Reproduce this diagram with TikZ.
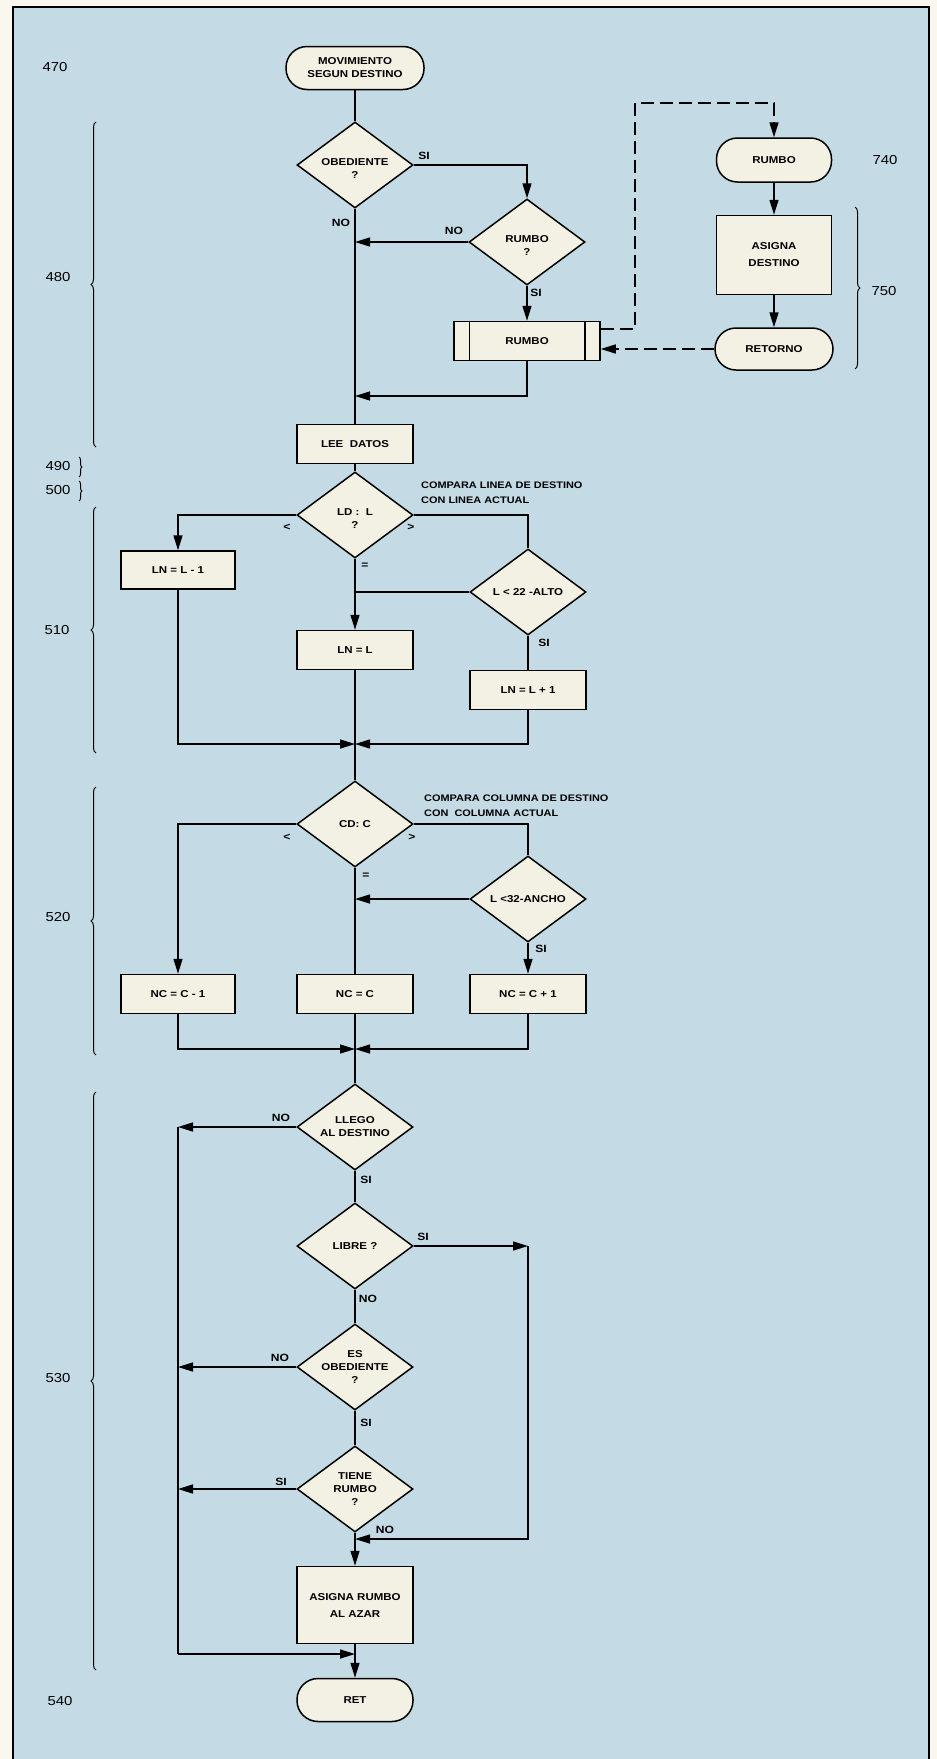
\documentclass[tikz,border=0pt]{standalone}
\usepackage{fontspec}
\setmainfont{Liberation Sans}[FakeStretch=1.15]
\usetikzlibrary{arrows.meta,shapes.geometric,decorations.pathreplacing}

\definecolor{pagebg}{RGB}{250,248,238}
\definecolor{skyblue}{RGB}{196,219,229}
\definecolor{boxfill}{RGB}{243,240,228}

\begin{document}
\begin{tikzpicture}[
  x=1pt, y=-1pt,
  font=\fontsize{10}{13}\selectfont\bfseries,
  box/.style={draw, fill=boxfill, line width=1.5pt, minimum width=116pt,
              minimum height=39pt, inner sep=0pt, align=center},
  term/.style={box, rounded corners=21pt, minimum height=43pt},
  dec/.style={box, diamond, aspect=1.35, minimum width=116pt, minimum height=86pt},
  lbl/.style={inner sep=0pt, font=\fontsize{10.5}{12}\selectfont\bfseries},
  num/.style={inner sep=0pt, font=\fontsize{13}{15}\selectfont},
  ln/.style={line width=1.5pt},
  ar/.style={-{Triangle[length=15pt,width=9pt]}, line width=1.5pt},
  dsh/.style={ar, dash pattern=on 13pt off 6pt},
  brc/.style={decorate, decoration={brace, amplitude=5pt}, line width=1pt},
]
\useasboundingbox (0,0) rectangle (937,1759);
\fill[pagebg] (0,0) rectangle (937,1759);
\fill[skyblue] (13,7) rectangle (929,1759);
\draw[line width=2.5pt] (13,1762) -- (13,7) -- (929,7) -- (929,1762);

% main column
\node[term, minimum width=138pt] (start) at (355,68) {MOVIMIENTO\\SEGUN DESTINO};
\node[dec] (obed) at (355,165) {\mbox{}\\OBEDIENTE\\?};
\node[dec] (rumq) at (527,242) {\mbox{}\\RUMBO\\?};
\node[box, minimum width=146pt] (rumbox) at (527,341) {RUMBO};
\node[box] (lee) at (355,444) {LEE~ DATOS};
\node[dec] (ldl) at (355,515) {\mbox{}\\LD : ~L\\?};
\node[box, minimum width=114pt, minimum height=38pt] (lnm1) at (178,570) {LN = L - 1};
\node[dec] (l22) at (528,592) {L < 22 -ALTO};
\node[box] (lneq) at (355,650) {LN = L};
\node[box] (lnp1) at (528,690) {LN = L + 1};
\node[dec] (cdc) at (355,824) {CD: C};
\node[dec] (l32) at (528,899) {L <32-ANCHO};
\node[box, minimum width=114pt] (ncm1) at (178,994) {NC = C - 1};
\node[box] (nceq) at (355,994) {NC = C};
\node[box] (ncp1) at (528,994) {NC = C + 1};
\node[dec] (llego) at (355,1127) {LLEGO\\AL DESTINO};
\node[dec] (libre) at (355,1246) {LIBRE ?};
\node[dec] (esob) at (355,1367) {ES\\OBEDIENTE\\?};
\node[dec] (tiene) at (355,1489) {TIENE\\RUMBO\\?};
\node[box, minimum height=77pt] (asigr) at (355,1605) {ASIGNA RUMBO\\[4pt]AL AZAR};
\node[term] (ret) at (355,1700) {RET};

% subroutine
\node[term, minimum width=115pt, minimum height=44pt] (rumt) at (774,160) {RUMBO};
\node[box, minimum width=115pt, minimum height=79pt] (asigd) at (774,255) {ASIGNA\\[4pt]DESTINO};
\node[term, minimum width=118pt, minimum height=42pt] (ret2) at (774,349) {RETORNO};

\draw[ln] ([xshift=16pt]rumbox.north west) -- ([xshift=16pt]rumbox.south west);
\draw[ln] ([xshift=-16pt]rumbox.north east) -- ([xshift=-16pt]rumbox.south east);

\coordinate (dA) at (635,103);
\coordinate (jB) at (355,396);
\coordinate (m1) at (355,744);
\coordinate (m2) at (355,1049);
\coordinate (lt) at (178,1127);
\coordinate (lb) at (178,1654);
\coordinate (cLib) at (528,1246);
\coordinate (jR) at (355,1539);
\coordinate (jL) at (355,1654);

% connectors
\draw[ln] (start) -- (obed);
\draw[ln] (obed) -- (lee);
\draw[ar] (obed.east) -| (rumq.north);
\draw[ar] (rumq.west) -- (rumq.west -| obed.south);
\draw[ar] (rumq) -- (rumbox);
\draw[ar] (rumbox.south) |- (jB);
\draw[ln] (lee) -- (ldl);
\draw[ar] (ldl.west) -| (lnm1.north);
\draw[ln] (ldl.east) -| (l22.north);
\draw[ar] (ldl) -- (lneq);
\draw[ln] (l22.west) -- (l22.west -| ldl.south);
\draw[ln] (l22) -- (lnp1);
\draw[ar] (lnm1.south) |- (m1);
\draw[ar] (lnp1.south) |- (m1);
\draw[ln] (lneq) -- (cdc);
\draw[ar] (cdc.west) -| (ncm1.north);
\draw[ln] (cdc.east) -| (l32.north);
\draw[ln] (cdc) -- (nceq);
\draw[ar] (l32.west) -- (l32.west -| cdc.south);
\draw[ar] (l32) -- (ncp1);
\draw[ar] (ncm1.south) |- (m2);
\draw[ar] (ncp1.south) |- (m2);
\draw[ln] (nceq) -- (llego);
\draw[ln] (llego) -- (libre);
\draw[ln] (libre) -- (esob);
\draw[ln] (esob) -- (tiene);
\draw[ar] (tiene) -- (asigr);
\draw[ar] (libre.east) -- (cLib);
\draw[ar] (cLib) |- (jR);
\draw[ln] (lt) -- (lb);
\draw[ar] (llego.west) -- (lt);
\draw[ar] (esob.west) -- (esob.west -| lt);
\draw[ar] (tiene.west) -- (tiene.west -| lt);
\draw[ar] (lb) -- (jL);
\draw[ar] (asigr) -- (ret);
\draw[dsh] ([yshift=12pt]rumbox.east) -| (dA) -| (rumt.north);
\draw[ar] (rumt) -- (asigd);
\draw[ar] (asigd) -- (ret2);
\draw[dsh] (ret2.west) -- (ret2.west -| rumbox.east);

% branch labels
\node[lbl] (s1) at (424,156) {SI};
\node[lbl] (n1) at (341,223) {NO};
\node[lbl] (n2) at (454,231) {NO};
\node[lbl] (s2) at (536,293) {SI};
\node[lbl] (lt1) at (287,527) {<};
\node[lbl] (gt1) at (411,527) {>};
\node[lbl] (eq1) at (365,566) {=};
\node[lbl] (s3) at (544,643) {SI};
\node[lbl] (lt2) at (287,837) {<};
\node[lbl] (gt2) at (412,837) {>};
\node[lbl] (eq2) at (366,876) {=};
\node[lbl] (s4) at (541,949) {SI};
\node[lbl] (n3) at (281,1118) {NO};
\node[lbl] (s5) at (366,1180) {SI};
\node[lbl] (s6) at (423,1237) {SI};
\node[lbl] (n4) at (368,1299) {NO};
\node[lbl] (n5) at (280,1358) {NO};
\node[lbl] (s7) at (366,1423) {SI};
\node[lbl] (s8) at (281,1482) {SI};
\node[lbl] (n6) at (385,1530) {NO};

\node[lbl, anchor=west, align=left, font=\fontsize{9.5}{15}\selectfont\bfseries] (cmpL) at (421,493)
  {COMPARA LINEA DE DESTINO\\CON LINEA ACTUAL};
\node[lbl, anchor=west, align=left, font=\fontsize{9.5}{15}\selectfont\bfseries] (cmpC) at (424,806)
  {COMPARA COLUMNA DE DESTINO\\CON~ COLUMNA ACTUAL};

% line numbers
\node[num] (l470) at (55,67) {470};
\node[num] (l480) at (58,277) {480};
\node[num] (l490) at (58,466) {490};
\node[num] (l500) at (58,490) {500};
\node[num] (l510) at (57,630) {510};
\node[num] (l520) at (58,917) {520};
\node[num] (l530) at (58,1378) {530};
\node[num] (l540) at (60,1701) {540};
\node[num] (l740) at (885,160) {740};
\node[num] (l750) at (884,291) {750};

\draw[brc] (96,447) -- (96,122);
\draw[brc] (96,753) -- (96,507);
\draw[brc] (96,1055) -- (96,787);
\draw[brc] (96,1670) -- (96,1092);
\draw[brc] (855,207) -- (855,369);
\draw[brc, decoration={brace, amplitude=3pt}] (79,457) -- (79,477);
\draw[brc, decoration={brace, amplitude=3pt}] (79,481) -- (79,501);
\end{tikzpicture}
\end{document}
